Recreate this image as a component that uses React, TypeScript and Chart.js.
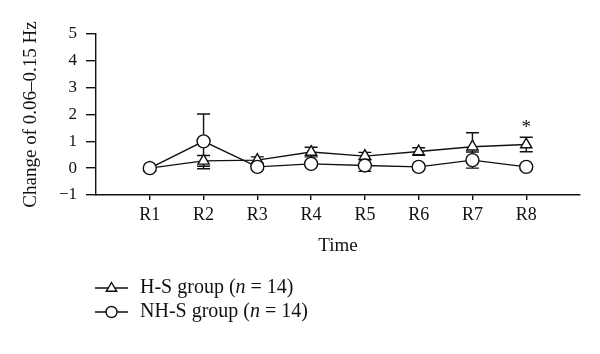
import React, { useEffect, useRef } from "react";
import { Chart, registerables } from "chart.js";

Chart.register(...registerables);

const categories = ["R1", "R2", "R3", "R4", "R5", "R6", "R7", "R8"];
const hsValues = [0, 0.27, 0.3, 0.6, 0.45, 0.62, 0.8, 0.88];
const hsErr = [0, 0.2, 0.12, 0.18, 0.14, 0.14, 0.52, 0.27];
const nhsValues = [0, 1.0, 0.05, 0.16, 0.1, 0.05, 0.3, 0.05];
const nhsErr = [0, 1.02, 0.04, 0.08, 0.22, 0.08, 0.3, 0.08];
const hsSig = ["", "", "", "", "", "", "", "*"];
const yTicks = [-1, 0, 1, 2, 3, 4, 5];

const FONT = "'Liberation Serif', 'DejaVu Serif', serif";

const errorBarPlugin = {
  id: "errorBars",
  beforeDatasetsDraw(chart: any) {
    const ctx = chart.ctx;
    const xs = chart.scales.x;
    const ys = chart.scales.y;
    ctx.save();
    ctx.strokeStyle = "#111";
    ctx.lineWidth = 1.4;
    chart.data.datasets.forEach((ds: any) => {
      const errs = ds.errors as number[];
      ds.data.forEach((p: any, i: number) => {
        const e = errs[i];
        if (!e) return;
        const x = xs.getPixelForValue(p.x);
        const yt = ys.getPixelForValue(p.y + e);
        const yb = ys.getPixelForValue(p.y - e);
        ctx.beginPath();
        ctx.moveTo(x, yb);
        ctx.lineTo(x, yt);
        ctx.moveTo(x - 6.5, yt);
        ctx.lineTo(x + 6.5, yt);
        ctx.moveTo(x - 6.5, yb);
        ctx.lineTo(x + 6.5, yb);
        ctx.stroke();
        if (ds.sig && ds.sig[i]) {
          ctx.fillStyle = "#111";
          ctx.font = `19px ${FONT}`;
          ctx.textAlign = "center";
          ctx.textBaseline = "middle";
          ctx.fillText(ds.sig[i], x, yt - 9);
        }
      });
    });
    ctx.restore();
  },
};

const legendPlugin = {
  id: "customLegend",
  afterDraw(chart: any) {
    const ctx = chart.ctx;
    ctx.save();
    chart.data.datasets.forEach((ds: any, i: number) => {
      const y = 288 + i * 24;
      const x0 = 95;
      const x1 = 128;
      const xm = (x0 + x1) / 2;
      ctx.strokeStyle = "#111";
      ctx.lineWidth = 1.4;
      ctx.beginPath();
      ctx.moveTo(x0, y);
      ctx.lineTo(x1, y);
      ctx.stroke();
      ctx.fillStyle = "#fff";
      ctx.beginPath();
      if (ds.pointStyle === "triangle") {
        const r = 5.5;
        ctx.moveTo(xm, y - r);
        ctx.lineTo(xm + r * 0.95, y + r * 0.6);
        ctx.lineTo(xm - r * 0.95, y + r * 0.6);
        ctx.closePath();
      } else {
        ctx.arc(xm, y, 5.5, 0, Math.PI * 2);
      }
      ctx.fill();
      ctx.stroke();
      const label: string = ds.label;
      const idx = label.indexOf("(n");
      const pre = label.slice(0, idx + 1);
      const ital = "n";
      const post = label.slice(idx + 2);
      ctx.fillStyle = "#111";
      ctx.textBaseline = "middle";
      ctx.textAlign = "left";
      let x = 140;
      ctx.font = `20px ${FONT}`;
      ctx.fillText(pre, x, y);
      x += ctx.measureText(pre).width;
      ctx.font = `italic 20px ${FONT}`;
      ctx.fillText(ital, x, y);
      x += ctx.measureText(ital).width;
      ctx.font = `20px ${FONT}`;
      ctx.fillText(post, x, y);
    });
    ctx.restore();
  },
};

export default function App() {
  const ref = useRef<HTMLCanvasElement | null>(null);
  useEffect(() => {
    if (!ref.current) return;
    const mk = (vals: number[]) => vals.map((v, i) => ({ x: i + 1, y: v }));
    const chart = new Chart(ref.current, {
      type: "line",
      data: {
        datasets: [
          {
            label: "H-S group (n = 14)",
            data: mk(hsValues),
            errors: hsErr,
            sig: hsSig,
            order: 2,
            borderColor: "#111",
            borderWidth: 1.4,
            backgroundColor: "#fff",
            pointStyle: "triangle",
            pointRadius: 6.5,
            pointBorderWidth: 1.4,
            pointBackgroundColor: "#fff",
            pointBorderColor: "#111",
          } as any,
          {
            label: "NH-S group (n = 14)",
            data: mk(nhsValues),
            errors: nhsErr,
            order: 1,
            borderColor: "#111",
            borderWidth: 1.4,
            backgroundColor: "#fff",
            pointStyle: "circle",
            pointRadius: 6.5,
            pointBorderWidth: 1.4,
            pointBackgroundColor: "#fff",
            pointBorderColor: "#111",
          } as any,
        ],
      },
      options: {
        animation: false,
        responsive: false,
        layout: { padding: { left: 0, right: 20, top: 34, bottom: 93 } },
        plugins: { legend: { display: false }, tooltip: { enabled: false } },
        scales: {
          x: {
            type: "linear",
            min: 0,
            max: categories.length + 1,
            afterBuildTicks: (axis: any) => {
              axis.ticks = categories.map((_, i) => ({ value: i + 1 }));
            },
            afterFit: (axis: any) => {
              axis.height = 66;
            },
            ticks: {
              color: "#111",
              font: { family: FONT, size: 18 },
              padding: 4,
              maxRotation: 0,
              callback: (v: any) => categories[Number(v) - 1] ?? "",
            },
            grid: { display: true, drawOnChartArea: false, drawTicks: true, tickLength: 5, color: "#111", lineWidth: 1.4 },
            border: { display: true, color: "#111", width: 1.4 },
            title: { display: true, text: "Time", color: "#111", font: { family: FONT, size: 19 }, padding: { top: 0, bottom: 4 } },
          },
          y: {
            type: "linear",
            min: -1,
            max: 5,
            afterBuildTicks: (axis: any) => {
              axis.ticks = yTicks.map((v) => ({ value: v }));
            },
            afterFit: (axis: any) => {
              axis.width = 96;
            },
            ticks: {
              color: "#111",
              font: { family: FONT, size: 17 },
              padding: 9,
              callback: (v: any) => (Number(v) < 0 ? "\u2212" + Math.abs(Number(v)) : String(v)),
            },
            grid: { display: true, drawOnChartArea: false, drawTicks: true, tickLength: 10, color: "#111", lineWidth: 1.4 },
            border: { display: true, color: "#111", width: 1.4 },
            title: { display: true, text: "Change of 0.06\u20130.15 Hz", color: "#111", font: { family: FONT, size: 19 }, padding: { top: 20, bottom: 0 } },
          },
        },
      } as any,
      plugins: [errorBarPlugin, legendPlugin],
    });
    return () => chart.destroy();
  }, []);
  return (
    <div style={{ position: "absolute", left: 0, top: 0, width: 600, height: 354, background: "#fff" }}>
      <canvas ref={ref} width={600} height={354} style={{ width: 600, height: 354 }} />
    </div>
  );
}
